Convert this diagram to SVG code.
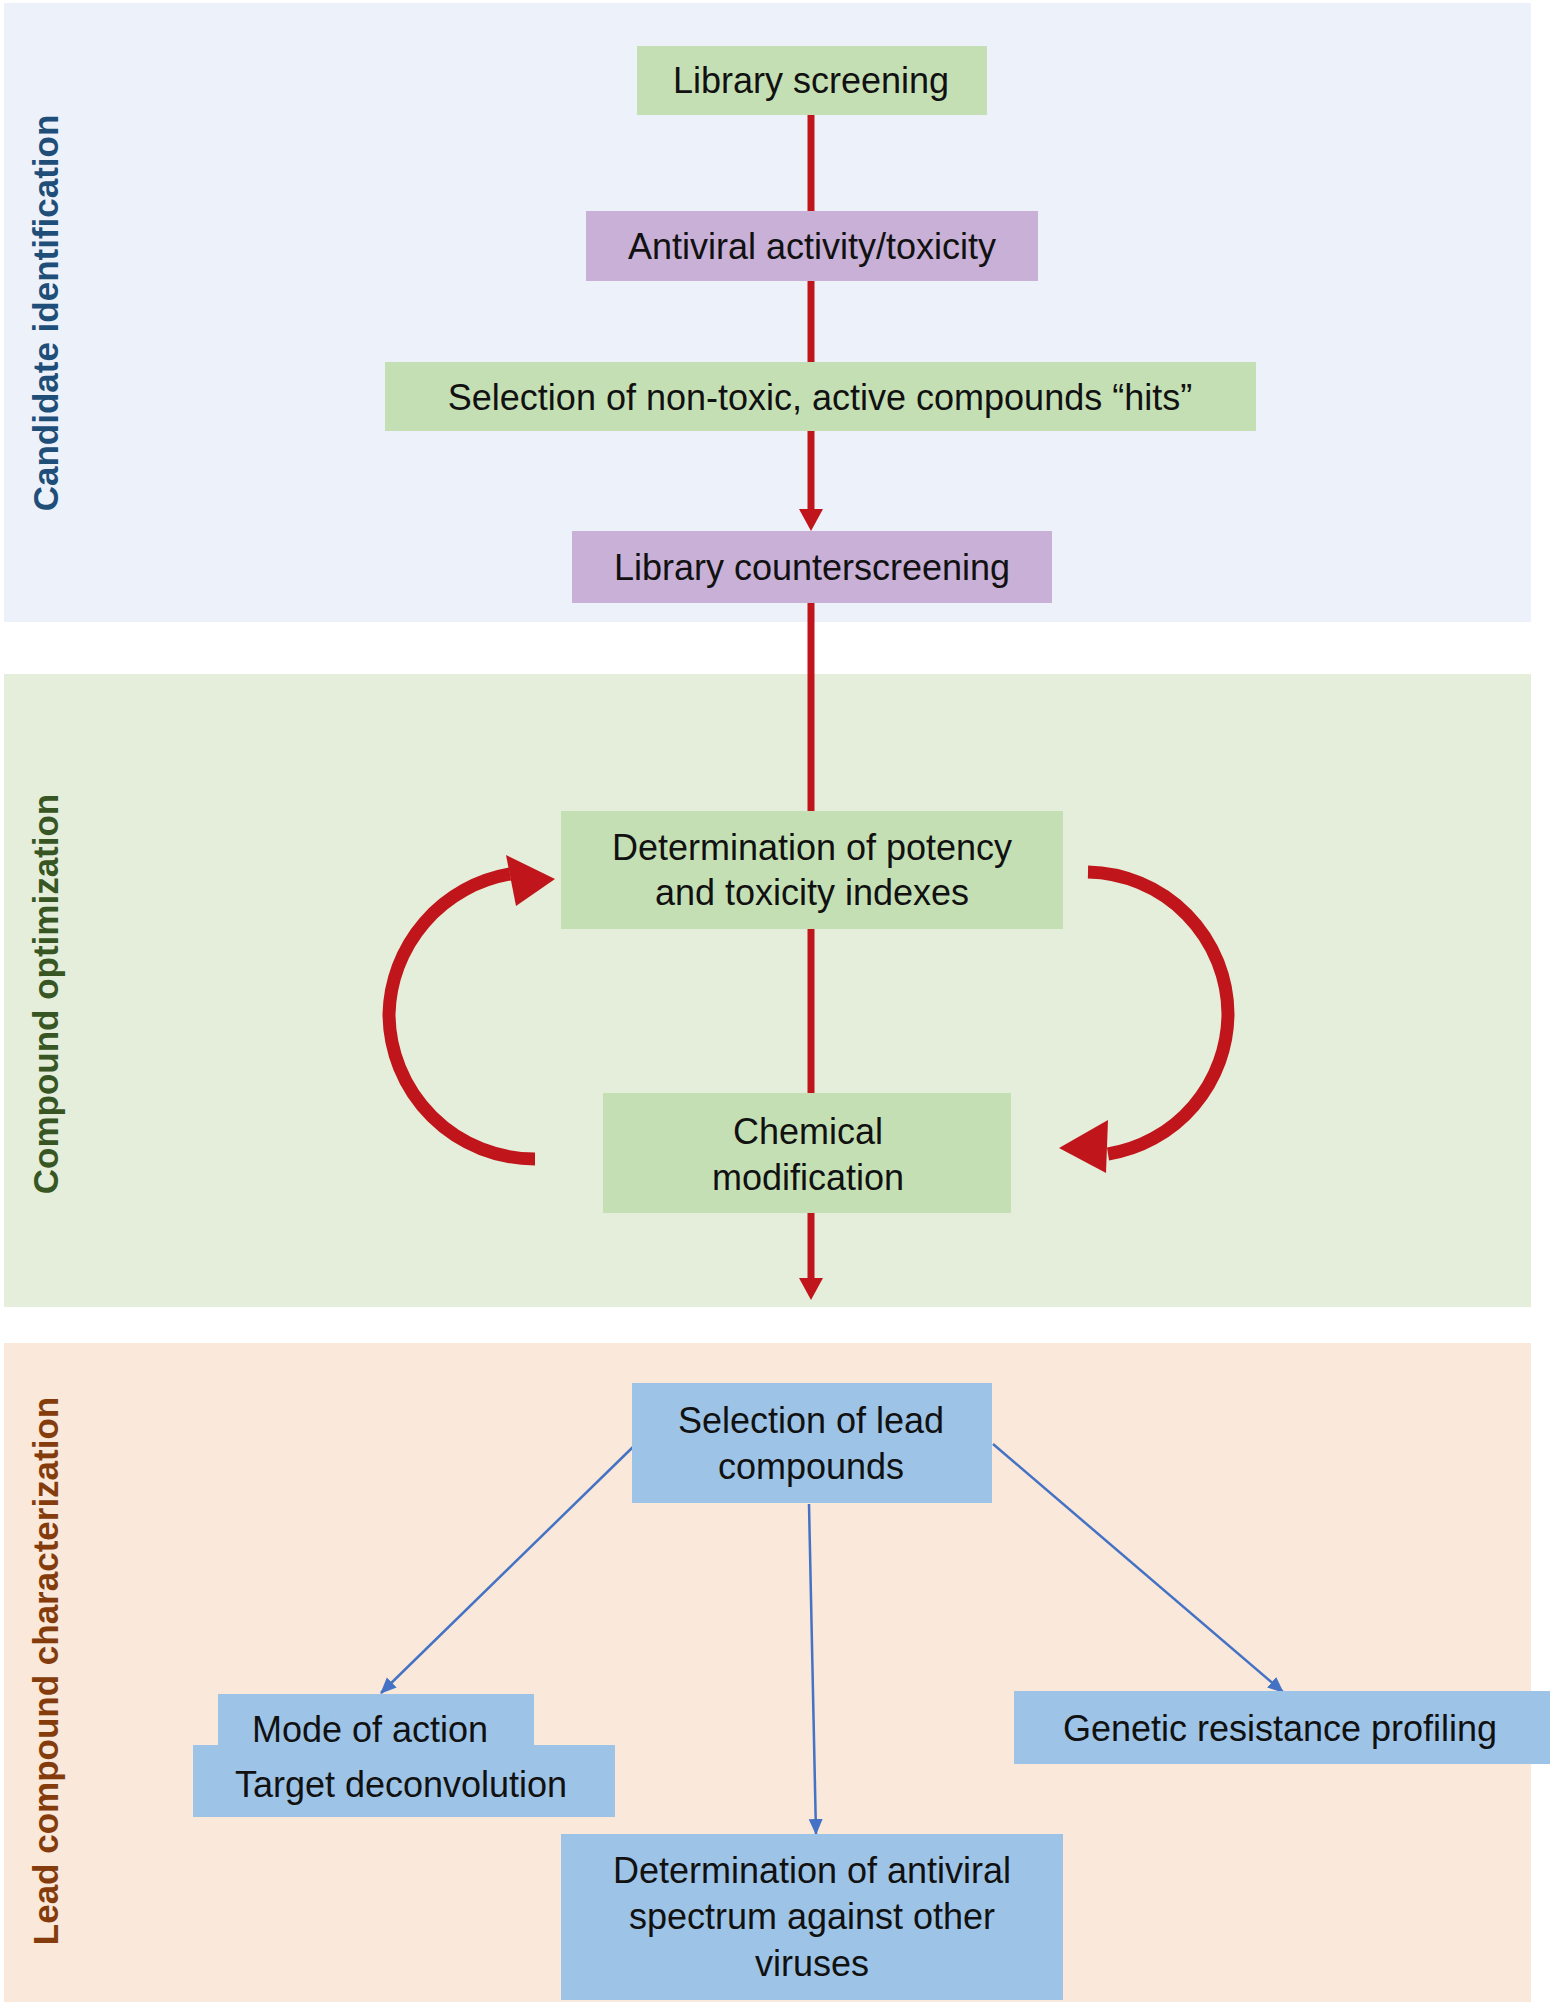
<svg xmlns="http://www.w3.org/2000/svg" width="1550" height="2013" viewBox="0 0 1550 2013">
<style>
.t{font-family:"Liberation Sans",Arial,sans-serif;font-size:36px;fill:#111;text-anchor:middle}
.s{font-family:"Liberation Sans",Arial,sans-serif;font-size:35px;font-weight:bold;text-anchor:middle}
.g{fill:#C5DFB4}.p{fill:#C8B0D6}.b{fill:#9DC3E6}
.r{stroke:#C0161B;stroke-width:7;fill:none}
.ra{stroke:#C0161B;stroke-width:13;fill:none}
.bl{stroke:#4472C4;stroke-width:2.5;fill:none}
</style>
<defs>
<marker id="mr" markerWidth="8" markerHeight="8" refX="7" refY="4" orient="auto" markerUnits="userSpaceOnUse" viewBox="0 0 8 8"><path d="M0,0L8,4L0,8z" fill="#C0161B"/></marker>
<marker id="mb" markerWidth="16" markerHeight="16" refX="15" refY="7" orient="auto" markerUnits="userSpaceOnUse" viewBox="0 0 16 14"><path d="M0,0L16,7L0,14z" fill="#4472C4"/></marker>
<marker id="mrr" markerWidth="24" markerHeight="26" refX="23" refY="13" orient="auto" markerUnits="userSpaceOnUse" viewBox="0 0 24 26"><path d="M0,0L24,13L0,26z" fill="#C0161B"/></marker>
</defs>
<g id="panels">
<rect x="4" y="3" width="1527" height="619" fill="#EDF2FA"/>
<rect x="4" y="674" width="1527" height="633" fill="#E4EEDB"/>
<rect x="4" y="1343" width="1527" height="659" fill="#FAE8DA"/>
<text class="s" fill="#1F4E79" transform="translate(58,313) rotate(-90)">Candidate identification</text>
<text class="s" fill="#375623" transform="translate(58,994) rotate(-90)">Compound optimization</text>
<text class="s" fill="#843C0C" transform="translate(58,1671) rotate(-90)">Lead compound characterization</text>
</g>
<g id="connectors">
<line class="r" x1="811" y1="114" x2="811" y2="211"/>
<line class="r" x1="811" y1="281" x2="811" y2="362"/>
<path d="M811,431V513" stroke="#C0161B" stroke-width="7"/>
<path d="M799,509L811,531L823,509z" fill="#C0161B"/>
<line class="r" x1="811" y1="603" x2="811" y2="811"/>
<line class="r" x1="811" y1="929" x2="811" y2="1093"/>
<path d="M811,1213V1282" stroke="#C0161B" stroke-width="7"/>
<path d="M799,1278L811,1300L823,1278z" fill="#C0161B"/>
<path class="ra" d="M535,1159A146,146 0 0 1 389,1014A146,146 0 0 1 510,874"/>
<polygon points="555,879 506,855 516,906" fill="#C0161B"/>
<path class="ra" d="M1088,872A143,143 0 0 1 1228,1014A143,143 0 0 1 1108,1154"/>
<polygon points="1059,1148 1108,1120 1106,1173" fill="#C0161B"/>
<line class="bl" x1="634" y1="1446" x2="381" y2="1693" marker-end="url(#mb)"/>
<line class="bl" x1="809" y1="1504" x2="816" y2="1834" marker-end="url(#mb)"/>
<line class="bl" x1="993" y1="1444" x2="1283" y2="1692" marker-end="url(#mb)"/>
</g>
<g id="n1"><rect class="g" x="637" y="46" width="350" height="69"/><text class="t" x="811" y="93">Library screening</text></g>
<g id="n2"><rect class="p" x="586" y="211" width="452" height="70"/><text class="t" x="812" y="259">Antiviral activity/toxicity</text></g>
<g id="n3"><rect class="g" x="385" y="362" width="871" height="69"/><text class="t" x="820" y="410">Selection of non-toxic, active compounds “hits”</text></g>
<g id="n4"><rect class="p" x="572" y="531" width="480" height="72"/><text class="t" x="812" y="580">Library counterscreening</text></g>
<g id="n5"><rect class="g" x="561" y="811" width="502" height="118"/><text class="t" x="812" y="860">Determination of potency</text><text class="t" x="812" y="905">and toxicity indexes</text></g>
<g id="n6"><rect class="g" x="603" y="1093" width="408" height="120"/><text class="t" x="808" y="1144">Chemical</text><text class="t" x="808" y="1190">modification</text></g>
<g id="n7"><rect class="b" x="632" y="1383" width="360" height="120"/><text class="t" x="811" y="1433">Selection of lead</text><text class="t" x="811" y="1479">compounds</text></g>
<g id="n8"><rect class="b" x="218" y="1694" width="316" height="60"/><rect class="b" x="193" y="1745" width="422" height="72"/><text class="t" x="370" y="1742">Mode of action</text><text class="t" x="401" y="1797">Target deconvolution</text></g>
<g id="n9"><rect class="b" x="1014" y="1691" width="536" height="73"/><text class="t" x="1280" y="1741">Genetic resistance profiling</text></g>
<g id="n10"><rect class="b" x="561" y="1834" width="502" height="166"/><text class="t" x="812" y="1883">Determination of antiviral</text><text class="t" x="812" y="1929">spectrum against other</text><text class="t" x="812" y="1976">viruses</text></g>
</svg>
